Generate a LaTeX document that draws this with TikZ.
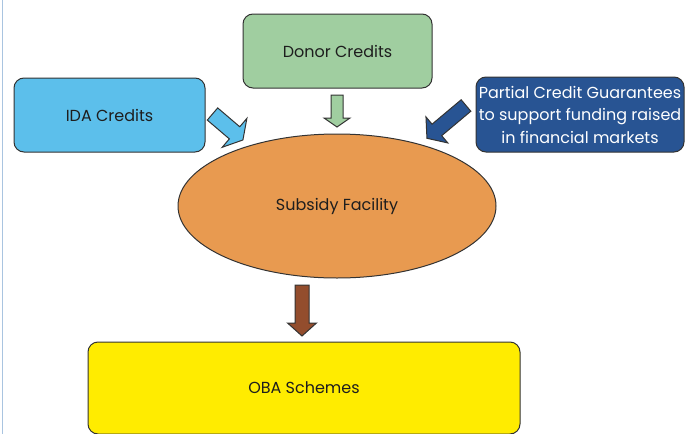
\documentclass[tikz,border=0pt]{standalone}
\usepackage{fontspec}
\setmainfont{Poppins}
\usetikzlibrary{shapes.geometric}

\definecolor{donorgreen}{HTML}{A0CEA0}
\definecolor{idablue}{HTML}{5CBFEB}
\definecolor{pcgblue}{HTML}{285493}
\definecolor{facilityorange}{HTML}{E89A50}
\definecolor{flowbrown}{HTML}{934D2D}
\definecolor{obayellow}{HTML}{FFEC00}
\definecolor{edgegray}{HTML}{333333}
\definecolor{textgray}{HTML}{1E1E1E}
\definecolor{rulegray}{HTML}{A9C4E0}

\begin{document}
\begin{tikzpicture}[x=1pt,y=-1pt,
  box/.style={draw=edgegray, line width=1pt, rounded corners=10pt, inner sep=0pt,
    font=\fontsize{16}{22.5}\selectfont, text=textgray, align=center},
  pics/blockarrow/.style n args={4}{code={
    \draw[pic actions] (0,-#2) -- (#1-#4,-#2) -- (#1-#4,-#3) -- (#1,0)
      -- (#1-#4,#3) -- (#1-#4,#2) -- (0,#2) -- cycle;}},
  fat/.style={draw=edgegray, line width=1pt, line join=miter}]
\useasboundingbox (0,0) rectangle (686,434);

% page rule on the left
\draw[rulegray, line width=1.2pt] (2.5,0) -- (2.5,434);

% sources
\node (donor) at (337.5,51) [box, fill=donorgreen, minimum width=189pt, minimum height=74pt] {Donor Credits};
\node (ida) at (109.5,115) [box, fill=idablue, minimum width=191pt, minimum height=74pt] {IDA Credits};
\node (pcg) at (580,114.5) [box, fill=pcgblue, text=white, minimum width=208pt, minimum height=75pt]
  {Partial Credit Guarantees\\to support funding raised\\in financial markets};

% facility and schemes
\node (facility) at (337,206) [ellipse, draw=edgegray, line width=1pt, fill=facilityorange,
  minimum width=318pt, minimum height=144pt, font=\fontsize{16}{20}\selectfont, text=textgray] {Subsidy Facility};
\node (oba) at (304,388) [box, fill=obayellow, minimum width=432pt, minimum height=92pt] {OBA Schemes};

% flows
\coordinate (idatail) at (212.5,114);
\coordinate (donortail) at (337,95);
\coordinate (pcgtail) at (466,105.5);
\coordinate (facilitytail) at (302,285);
\pic[fat, fill=idablue, rotate=-40.5] at (idatail) {blockarrow={40}{8}{19}{11}};
\pic[fat, fill=donorgreen, rotate=-90] at (donortail) {blockarrow={32}{6}{13}{9}};
\pic[fat, fill=pcgblue, rotate=-140] at (pcgtail) {blockarrow={51}{7.5}{17}{13}};
\pic[fat, fill=flowbrown, rotate=-90] at (facilitytail) {blockarrow={51}{7}{14.5}{13}};
\end{tikzpicture}
\end{document}
